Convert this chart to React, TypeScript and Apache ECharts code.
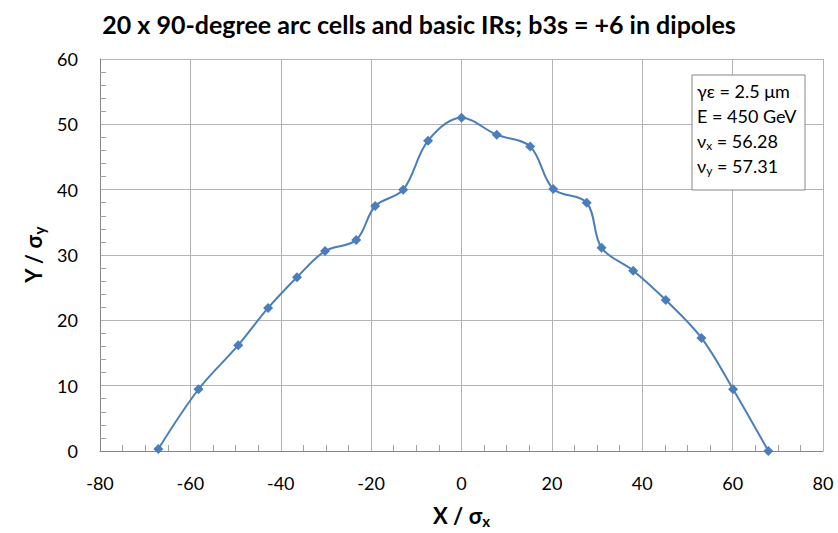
import React, { useEffect, useRef } from "react";
import * as echarts from "echarts";

const xValues = [-67.1, -58.2, -49.4, -42.8, -36.4, -30.2, -23.3, -19.1, -12.9, -7.4, 0, 7.8, 15.2, 20.3, 27.7, 31.0, 38.0, 45.2, 53.1, 60.1, 67.9];
const yValues = [0.3, 9.45, 16.2, 21.9, 26.6, 30.6, 32.3, 37.5, 40.0, 47.5, 51.0, 48.4, 46.6, 40.1, 38.0, 31.1, 27.6, 23.1, 17.3, 9.45, 0];

const title = "20 x 90-degree arc cells and basic IRs; b3s = +6 in dipoles";
const infoLines = ["γε = 2.5 μm", "E = 450 GeV", "{n|ν}{s|x}{n| = 56.28}", "{n|ν}{s|y}{n| = 57.31}"];

const FONT = "Lato, 'Open Sans', sans-serif";

export default function App() {
  const ref = useRef<HTMLDivElement>(null);
  useEffect(() => {
    if (!ref.current) return;
    const chart = echarts.init(ref.current, null, { renderer: "svg" });
    const data = xValues.map((x, i) => [x, yValues[i]]);
    const rich = {
      n: { fontSize: 18, fontFamily: FONT, color: "#000" },
      s: { fontSize: 12, fontFamily: FONT, color: "#000", verticalAlign: "bottom", padding: [9, 0, 0, 0] },
    };
    const axisNameRich = {
      a: { fontFamily: FONT, fontSize: 22, fontWeight: "bold", color: "#000" },
      b: { fontFamily: FONT, fontSize: 15, fontWeight: "bold", color: "#000", verticalAlign: "bottom", padding: [10, 0, 0, 0] },
    };
    chart.setOption({
      animation: false,
      backgroundColor: "#fff",
      title: {
        text: title,
        left: "center",
        top: 6,
        textStyle: { fontFamily: FONT, fontWeight: "bold", fontSize: 25, color: "#000" },
      },
      grid: { left: 100, right: 15, top: 59, bottom: 82 },
      xAxis: {
        type: "value",
        min: -80,
        max: 80,
        interval: 20,
        axisLine: { show: true, onZero: false, lineStyle: { color: "#868686", width: 1 } },
        axisTick: { show: false, inside: true },
        minorTick: { show: true, splitNumber: 4, length: 6, lineStyle: { color: "#a0a0a0" } },
        splitLine: { show: true, lineStyle: { color: "#b3b3b3", width: 1 } },
        axisLabel: { fontFamily: FONT, fontSize: 18, color: "#000", margin: 23 },
        name: "{a|X / σ}{b|x}",
        nameLocation: "middle",
        nameGap: 52,
        nameTextStyle: { rich: axisNameRich },
      },
      yAxis: {
        type: "value",
        min: 0,
        max: 60,
        interval: 10,
        axisLine: { show: true, onZero: false, lineStyle: { color: "#868686", width: 1 } },
        axisTick: { show: false, inside: true },
        minorTick: { show: true, splitNumber: 5, length: 6, lineStyle: { color: "#a0a0a0" } },
        splitLine: { show: true, lineStyle: { color: "#b3b3b3", width: 1 } },
        axisLabel: { fontFamily: FONT, fontSize: 18, color: "#000", margin: 22 },
        name: "{a|Y / σ}{b|y}",
        nameLocation: "middle",
        nameGap: 52,
        nameRotate: 90,
        nameTextStyle: { rich: axisNameRich },
      },
      series: [
        {
          type: "line",
          data,
          smooth: 0.35,
          symbol: "diamond",
          symbolSize: 10,
          itemStyle: { color: "#4a7ebb" },
          lineStyle: { color: "#4a7ebb", width: 2 },
        },
      ],
      graphic: [
        {
          type: "rect",
          shape: { x: 692, y: 75, width: 113, height: 115 },
          style: { fill: "#fff", stroke: "#868686", lineWidth: 1 },
          z: 10,
        },
        ...infoLines.map((t, i) => ({
          type: "text",
          left: 697,
          top: 82 + i * 25,
          z: 11,
          style: {
            text: t.includes("{") ? t : `{n|${t}}`,
            rich,
            fill: "#000",
          },
        })),
      ],
    });
    return () => chart.dispose();
  }, []);
  return <div ref={ref} style={{ position: "fixed", left: 0, top: 0, width: 838, height: 533 }} />;
}
